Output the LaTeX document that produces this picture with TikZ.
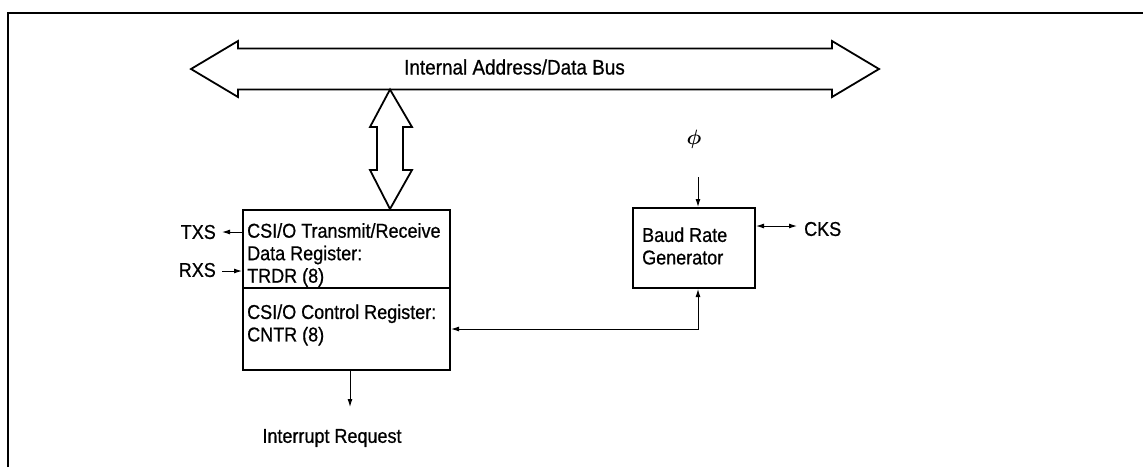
\documentclass[tikz,border=0pt]{standalone}
\usepackage{fontspec}
\setmainfont{Liberation Sans}[FakeStretch=0.9,FakeBold=0.7]
\usetikzlibrary{arrows.meta}
\begin{document}
\begin{tikzpicture}[x=1pt,y=-1pt,
  txt/.style={inner sep=0pt,font=\fontsize{20}{22.5}\selectfont},
  regbox/.style={draw,line width=2pt},
  bigarrow/.style={draw,line width=1.8pt,line join=miter,fill=white},
  sig/.style={line width=1pt,-{Latex[length=8pt,width=5pt]}},
  sigboth/.style={line width=1pt,{Latex[length=8pt,width=5pt]}-{Latex[length=8pt,width=5pt]}},
  frame/.style={line width=2pt}]
\useasboundingbox (0,0) rectangle (1143,467);
% frame
\coordinate (fbl) at (8,467);
\coordinate (ftl) at (8,13);
\coordinate (ftr) at (1143,13);
\draw[frame] (fbl) -- (ftl) -- (ftr);
% internal bus (double arrow)
\draw[bigarrow] (191,69) -- (238,41) -- (238,48.5) -- (832,48.5) -- (832,41) -- (879,69)
  -- (832,97) -- (832,89.5) -- (238,89.5) -- (238,97) -- cycle;
\node[txt,font=\fontsize{21}{22}\selectfont,anchor=west] (bus) at (404,67) {Internal Address/Data Bus};
% vertical double arrow
\draw[bigarrow] (390,89.5) -- (412,127) -- (403,127) -- (403,170) -- (412,170) -- (390,209)
  -- (370,170) -- (377,170) -- (377,127) -- (370,127) -- cycle;
% registers
\node[regbox,minimum width=207pt,minimum height=78pt,anchor=north west,inner sep=0pt] (trdr) at (242,209) {};
\node[regbox,minimum width=207pt,minimum height=82pt,anchor=north west,inner sep=0pt] (cntr) at (242,287) {};
\node[txt,align=left,anchor=west] (trdrt) at (247,255) {CSI/O Transmit/Receive\\Data Register:\\TRDR (8)};
\node[txt,align=left,anchor=west] (cntrt) at (247,325) {CSI/O Control Register:\\CNTR (8)};
% baud rate generator
\node[regbox,minimum width=122pt,minimum height=80pt,anchor=north west,inner sep=0pt] (baud) at (632,207) {};
\node[txt,align=left,anchor=west] (baudt) at (642,246) {Baud Rate\\Generator};
% signals
\node[txt,anchor=east] (txs) at (216,232) {TXS};
\node[txt,anchor=east] (rxs) at (216,270) {RXS};
\coordinate (txsend) at (222,232);
\coordinate (rxsstart) at (222,271);
\draw[sig] (trdr.west |- txsend) -- (txsend);
\draw[sig] (rxsstart) -- (trdr.west |- rxsstart);
\node[txt] (irq) at (332,438) {Interrupt Request};
\coordinate (irqend) at (350,407);
\draw[sig] (cntr.south -| irqend) -- (irqend);
\node[inner sep=0pt,font=\fontsize{20}{22}\selectfont\boldmath] (phi) at (694,139) {$\phi$};
\coordinate (phiend) at (698,177);
\draw[sig] (phiend) -- (baud.north -| phiend);
\coordinate (link) at (698,329);
\draw[sigboth] (baud.south -| link) -- (link) -- (cntr.east |- link);
\node[txt,anchor=west] (cks) at (804,229) {CKS};
\coordinate (cksend) at (797,226);
\draw[sigboth] (baud.east |- cksend) -- (cksend);
\end{tikzpicture}
\end{document}
